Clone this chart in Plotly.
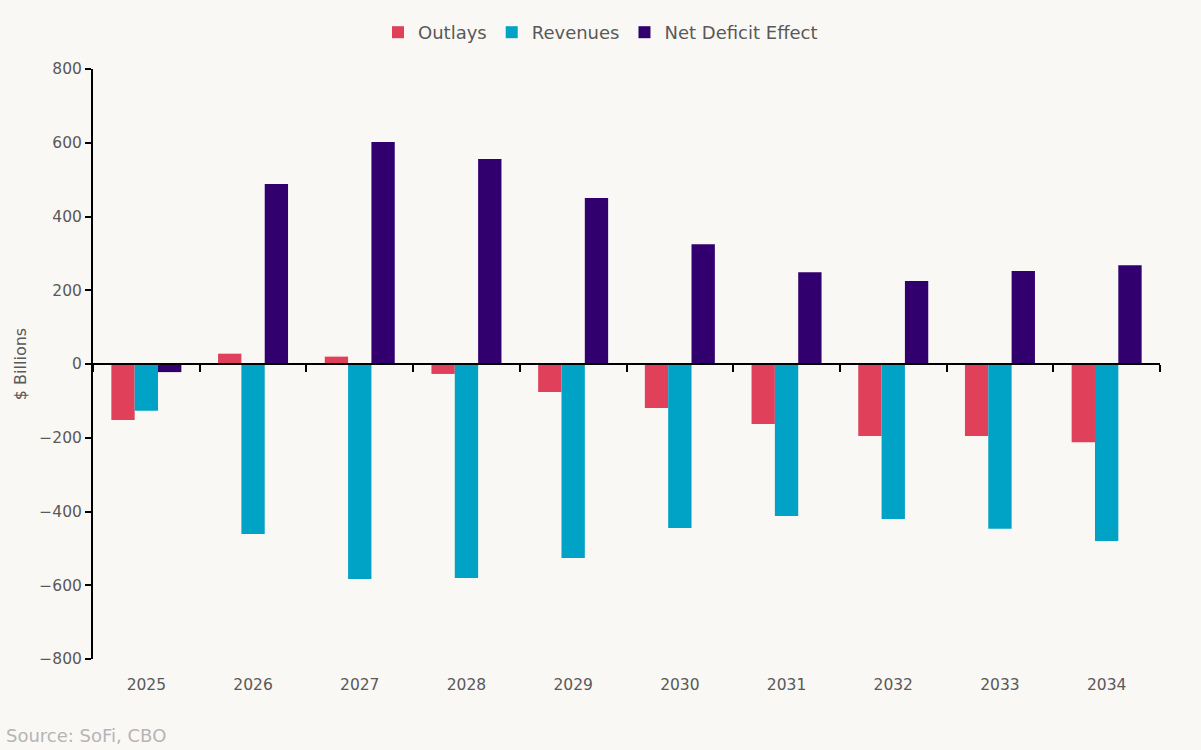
import plotly.graph_objects as go

years = ["2025", "2026", "2027", "2028", "2029", "2030", "2031", "2032", "2033", "2034"]
outlays = [-152, 28, 20, -27, -76, -119, -163, -195, -195, -212]
revenues = [-127, -461, -583, -580, -526, -445, -412, -420, -447, -480]
net_deficit = [-22, 488, 602, 556, 450, 325, 249, 225, 252, 268]
y_ticks = [-800, -600, -400, -200, 0, 200, 400, 600, 800]

bg = "#faf8f4"
font_family = "DejaVu Sans, sans-serif"
text_col = "#595959"

fig = go.Figure()
fig.add_trace(go.Bar(name="Outlays", x=years, y=outlays, marker_color="#e1405a", marker_line_width=0))
fig.add_trace(go.Bar(name="Revenues", x=years, y=revenues, marker_color="#00a3c6", marker_line_width=0))
fig.add_trace(go.Bar(name="Net Deficit Effect", x=years, y=net_deficit, marker_color="#32006e", marker_line_width=0))
# invisible trace for the zero-line axis with boundary ticks
fig.add_trace(go.Scatter(x=years, y=[0] * len(years), xaxis="x2", mode="lines",
                         line=dict(width=0), showlegend=False, hoverinfo="skip"))

cat_range = [-0.5, len(years) - 0.5]

fig.update_layout(
    width=1201, height=750,
    paper_bgcolor=bg, plot_bgcolor=bg,
    font=dict(family=font_family, color=text_col, size=15),
    barmode="group", bargap=0.344, bargroupgap=0,
    margin=dict(l=93, r=41, t=69, b=91, autoexpand=False),
    legend=dict(orientation="h", x=0.5, xref="container", xanchor="center",
                y=(750 - 14) / 750, yref="container",
                yanchor="top", font=dict(size=18, color=text_col), traceorder="normal",
                bgcolor="rgba(0,0,0,0)"),
    xaxis=dict(type="category", categoryorder="array", categoryarray=years, range=cat_range,
               showline=False, ticks="", showgrid=False, zeroline=False,
               ticklabelstandoff=14,
               tickfont=dict(size=15.5, color=text_col)),
    xaxis2=dict(type="category", categoryorder="array", categoryarray=years, range=cat_range,
                overlaying="x", anchor="free", position=0.5,
                showline=True, linecolor="black", linewidth=2,
                ticks="outside", tickson="boundaries", ticklen=7, tickwidth=2, tickcolor="black",
                showticklabels=False, showgrid=False, zeroline=False),
    yaxis=dict(range=[-800, 800], tickvals=y_ticks, showgrid=False, zeroline=False,
               showline=True, linecolor="black", linewidth=2,
               ticks="outside", ticklen=6, tickwidth=2, tickcolor="black",
               tickfont=dict(size=15.5, color=text_col),
               title=dict(text="$ Billions", font=dict(size=16, color=text_col), standoff=9)),
)
fig.add_annotation(text="Source: SoFi, CBO", xref="paper", yref="paper", x=-89/1067, y=-(735-659)/590,
                   xanchor="left", yanchor="middle", showarrow=False,
                   font=dict(size=18, color="#b5b5b5", family=font_family))

fig.write_html("out.html", config={"displayModeBar": False},
               post_script="document.body.style.margin='0';document.body.style.background='#faf8f4';")
